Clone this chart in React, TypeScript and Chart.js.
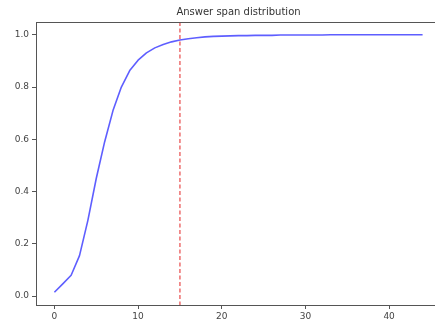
import React, { useEffect, useRef } from "react";
import { Chart, registerables } from "chart.js";

Chart.register(...registerables);

const TITLE = "Answer span distribution";
const spanLengths = [
  0, 1, 2, 3, 4, 5, 6, 7, 8, 9, 10, 11, 12, 13, 14, 15, 16, 17, 18, 19, 20, 21, 22,
  23, 24, 25, 26, 27, 28, 29, 30, 31, 32, 33, 34, 35, 36, 37, 38, 39, 40, 41, 42, 43, 44,
];
const cumulative = [
  0.015, 0.047, 0.08, 0.155, 0.29, 0.45, 0.59, 0.71, 0.8, 0.863, 0.903, 0.931, 0.95,
  0.963, 0.973, 0.98, 0.985, 0.989, 0.992, 0.994, 0.995, 0.996, 0.997, 0.997, 0.998,
  0.998, 0.998, 0.999, 0.999, 0.999, 0.999, 0.999, 0.999, 1.0, 1.0, 1.0, 1.0, 1.0, 1.0,
  1.0, 1.0, 1.0, 1.0, 1.0, 1.0,
];
const threshold = 15;
const xTicks = [0, 10, 20, 30, 40];
const yTicks = [0, 0.2, 0.4, 0.6, 0.8, 1.0];

const FONT = "'DejaVu Sans', sans-serif";

export default function App() {
  const ref = useRef<HTMLCanvasElement | null>(null);
  useEffect(() => {
    if (!ref.current) return;
    const framePlugin = {
      id: "frame",
      afterDatasetsDraw(chart: any) {
        const { ctx, chartArea, scales } = chart;
        const x = scales.x.getPixelForValue(threshold);
        ctx.save();
        ctx.strokeStyle = "rgba(230,60,60,0.75)";
        ctx.lineWidth = 1.5;
        ctx.setLineDash([4, 2.5]);
        ctx.beginPath();
        ctx.moveTo(x, chartArea.top);
        ctx.lineTo(x, chartArea.bottom);
        ctx.stroke();
        ctx.setLineDash([]);
        ctx.strokeStyle = "#555";
        ctx.lineWidth = 1;
        ctx.strokeRect(
          chartArea.left + 0.5,
          chartArea.top + 0.5,
          chartArea.right - chartArea.left,
          chartArea.bottom - chartArea.top
        );
        ctx.fillStyle = "#333";
        ctx.font = `10px ${FONT}`;
        ctx.textAlign = "center";
        ctx.textBaseline = "middle";
        ctx.fillText(TITLE, (chartArea.left + chartArea.right) / 2, 12.5);
        ctx.restore();
      },
    };
    const chart = new Chart(ref.current, {
      type: "line",
      data: {
        datasets: [
          {
            data: spanLengths.map((x, i) => ({ x, y: cumulative[i] })),
            borderColor: "rgba(40,40,255,0.75)",
            borderWidth: 1.6,
            pointRadius: 0,
            tension: 0,
            borderJoinStyle: "round",
            fill: false,
          },
        ],
      },
      options: {
        animation: false,
        responsive: false,
        maintainAspectRatio: false,
        layout: { padding: { top: 22, right: 4, left: 0, bottom: 0 } },
        plugins: { legend: { display: false }, tooltip: { enabled: false }, title: { display: false } },
        scales: {
          x: {
            type: "linear",
            min: -2.2,
            max: 46.2,
            afterBuildTicks: (s: any) => {
              s.ticks = xTicks.map((v) => ({ value: v }));
            },
            afterFit: (s: any) => {
              s.height = 19;
            },
            grid: { drawOnChartArea: false, drawTicks: true, tickLength: 4, color: "#555" },
            border: { display: false },
            ticks: { color: "#444", font: { family: FONT, size: 9 }, padding: 2, maxRotation: 0 },
          },
          y: {
            type: "linear",
            min: -0.034,
            max: 1.049,
            afterBuildTicks: (s: any) => {
              s.ticks = yTicks.map((v) => ({ value: v }));
            },
            afterFit: (s: any) => {
              s.width = 36;
            },
            grid: { drawOnChartArea: false, drawTicks: true, tickLength: 4, color: "#555" },
            border: { display: false },
            ticks: {
              color: "#444",
              font: { family: FONT, size: 9 },
              padding: 3,
              callback: (v: any) => Number(v).toFixed(1),
            },
          },
        },
      },
      plugins: [framePlugin],
    });
    return () => chart.destroy();
  }, []);
  return (
    <div style={{ position: "fixed", left: 0, top: 0, width: 435, height: 324, overflow: "hidden", background: "#fff" }}>
      <canvas ref={ref} width={445} height={324} style={{ width: 445, height: 324 }} />
    </div>
  );
}
